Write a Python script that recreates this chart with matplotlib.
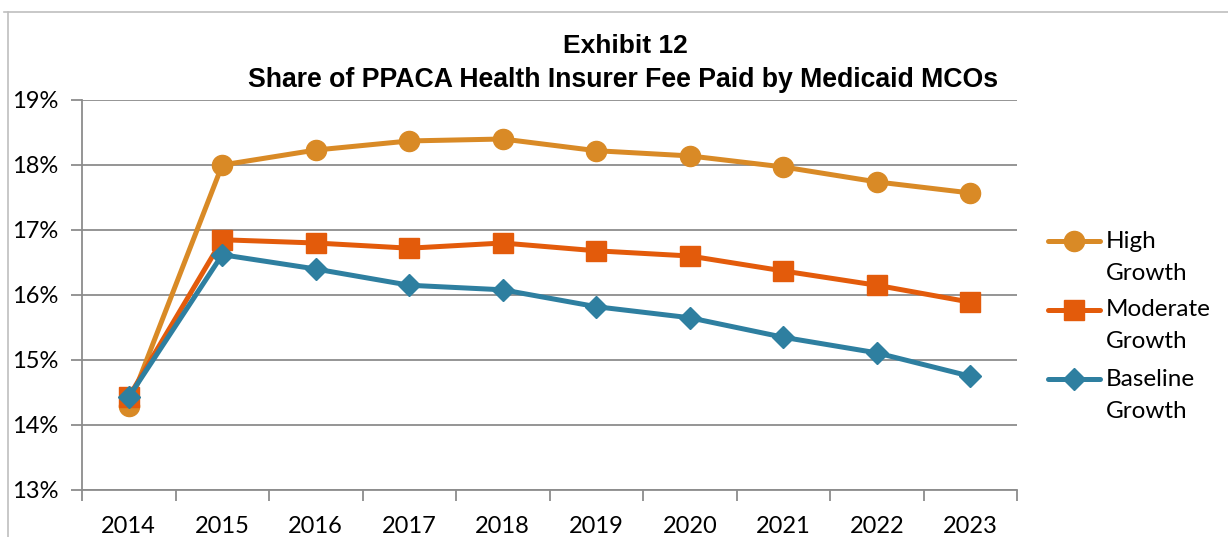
import matplotlib
matplotlib.use("Agg")
import matplotlib.pyplot as plt
from matplotlib.lines import Line2D

years = ["2014", "2015", "2016", "2017", "2018", "2019", "2020", "2021", "2022", "2023"]
high = [14.29, 18.00, 18.23, 18.37, 18.40, 18.22, 18.14, 17.97, 17.74, 17.57]
moderate = [14.43, 16.85, 16.80, 16.72, 16.80, 16.68, 16.60, 16.37, 16.15, 15.89]
baseline = [14.43, 16.62, 16.40, 16.15, 16.08, 15.82, 15.65, 15.35, 15.11, 14.75]
labels = ["High\nGrowth", "Moderate\nGrowth", "Baseline\nGrowth"]
yticks = [13, 14, 15, 16, 17, 18, 19]

c_high = "#D98A26"
c_mod = "#E35B0B"
c_base = "#2E7FA0"
colors = [c_high, c_mod, c_base]
markers = ["o", "s", "D"]
msizes = [14.5, 14, 11.5]

W, H = 1228, 537
fig = plt.figure(figsize=(W / 100, H / 100), dpi=100)
ax = fig.add_axes([82 / W, 1 - 490 / H, (1017 - 82) / W, (490 - 100) / H])

# chart border (partially visible)
fig.add_artist(Line2D([4 / W, 1], [1 - 12 / H, 1 - 12 / H], color="#BFBFBF", lw=1.2, transform=fig.transFigure))
fig.add_artist(Line2D([8 / W, 8 / W], [0, 1 - 12 / H], color="#BFBFBF", lw=1.2, transform=fig.transFigure))

x = list(range(len(years)))
series = [high, moderate, baseline]
handles = []
for i, vals in enumerate(series):
    h, = ax.plot(x, vals, color=colors[i], lw=3.6, marker=markers[i], ms=msizes[i],
                 label=labels[i], zorder=3 + i)
    handles.append(h)

ax.set_xlim(-0.5, len(years) - 0.5)
ax.set_ylim(13, 19)
ax.set_yticks(yticks)
ax.set_yticklabels([f"{v}%" for v in yticks])
ax.set_xticks(x)
ax.set_xticklabels(years)
ax.set_xticks([i - 0.5 for i in range(len(years) + 1)], minor=True)
ax.tick_params(axis="x", which="major", length=0, pad=19)
ax.tick_params(axis="x", which="minor", length=8, color="#8C8C8C", width=1.3)
ax.tick_params(axis="y", length=8, color="#8C8C8C", width=1.3, pad=9)
for lab in ax.get_xticklabels() + ax.get_yticklabels():
    lab.set_fontfamily(["Lato", "DejaVu Sans"])
    lab.set_fontsize(17)

ax.grid(axis="y", color="#8C8C8C", lw=1.3)
ax.set_axisbelow(True)
for s in ["top", "right"]:
    ax.spines[s].set_visible(False)
for s in ["left", "bottom"]:
    ax.spines[s].set_color("#8C8C8C")
    ax.spines[s].set_linewidth(1.3)

fig.text(625 / W, 1 - 46 / H, "Exhibit 12", ha="center", va="center",
         fontfamily="Liberation Sans", fontweight="bold", fontsize=19)
fig.text(623 / W, 1 - 80 / H, "Share of PPACA Health Insurer Fee Paid by Medicaid MCOs", ha="center", va="center",
         fontfamily="Liberation Sans", fontweight="bold", fontsize=19.2)

# legend drawn manually so the key aligns with the first text line
leg_y = [241, 310, 379]
for i, h in enumerate(handles):
    yy = 1 - leg_y[i] / H
    fig.add_artist(Line2D([1048 / W, 1100 / W], [yy, yy], color=h.get_color(), lw=3.6,
                          transform=fig.transFigure, solid_capstyle="round"))
    fig.add_artist(Line2D([1074 / W], [yy], color=h.get_color(), marker=h.get_marker(),
                          ms=h.get_markersize(), lw=0, transform=fig.transFigure))
    first, second = h.get_label().split("\n")
    fig.text(1106 / W, yy, first, ha="left", va="center",
             fontfamily="Lato", fontsize=17.5)
    fig.text(1106 / W, 1 - (leg_y[i] + 32) / H, second, ha="left", va="center",
             fontfamily="Lato", fontsize=17.5)

fig.savefig("out.png", dpi=100, facecolor="white")
